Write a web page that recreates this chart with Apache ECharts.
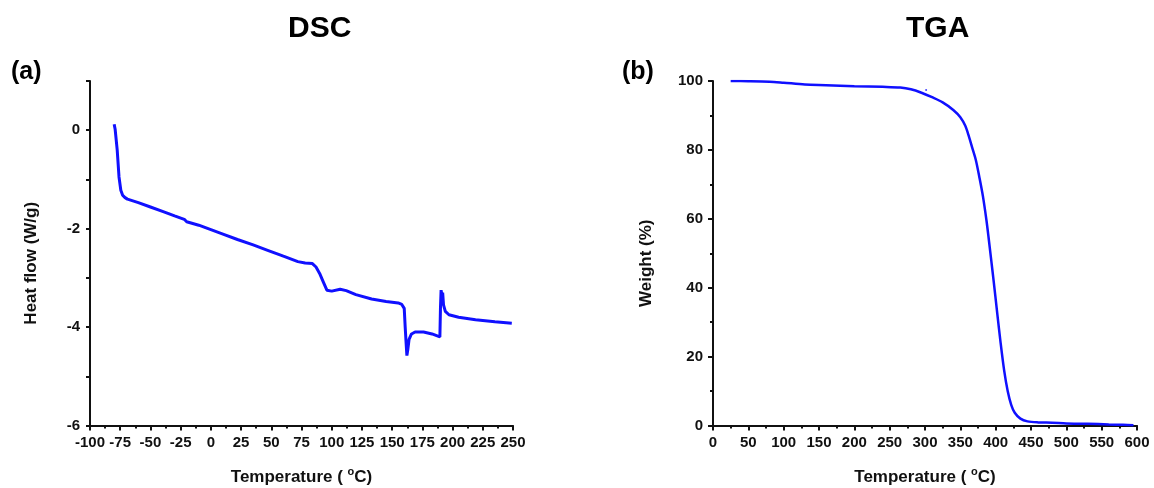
<!DOCTYPE html>
<html>
<head>
<meta charset="utf-8">
<script src="https://cdn.jsdelivr.net/npm/echarts@6/dist/echarts.min.js"></script>
<style>
    html, body { margin: 0; padding: 0; background: #fff; }
    #chart { width: 1154px; height: 488px; }
</style>
</head>
<body>
<div id="chart"></div>
<script>
// DSC curve (a)
var dscTemp = [-80, -79.2, -77.5, -76, -74.5, -73, -71, -69, -60, -50, -40, -30, -22, -20, -10, 0, 10, 22, 35, 47, 60, 72, 78, 84, 87, 90, 93, 96, 100, 107, 112, 120, 133, 145, 155, 158, 160, 160.8, 161.5, 162.2, 163, 164, 166, 169, 176, 183, 189.5, 190, 190.5, 191.2, 191.8, 192.5, 194, 197, 205, 219, 235, 249]
var dscHeat = [0.12, 0.02, -0.4, -0.95, -1.22, -1.32, -1.37, -1.40, -1.47, -1.56, -1.65, -1.74, -1.81, -1.86, -1.93, -2.02, -2.11, -2.22, -2.33, -2.44, -2.56, -2.67, -2.70, -2.71, -2.78, -2.91, -3.08, -3.25, -3.27, -3.23, -3.26, -3.34, -3.43, -3.48, -3.51, -3.54, -3.62, -4.0, -4.3, -4.58, -4.45, -4.25, -4.14, -4.10, -4.10, -4.14, -4.20, -3.6, -3.25, -3.35, -3.30, -3.55, -3.68, -3.75, -3.80, -3.85, -3.89, -3.92]

// TGA curve (b)
var tgaTemp = [25, 50, 80, 100, 130, 160, 200, 240, 265, 280, 295, 310, 325, 340, 350, 357, 362, 367, 372, 377, 382, 387, 390, 394, 397, 402, 407, 412, 417, 422, 427, 435, 445, 460, 480, 500, 530, 560, 580, 595]
var tgaWeight = [100, 99.95, 99.8, 99.5, 99.0, 98.8, 98.5, 98.3, 98.1, 97.6, 96.6, 95.3, 93.8, 91.6, 89.5, 87, 84, 80.5, 77, 72, 66.5, 59.5, 54.5, 47.5, 42.2, 33, 24, 16, 10, 6, 3.7, 2.0, 1.2, 0.9, 0.8, 0.6, 0.5, 0.3, 0.2, 0.1]
var tgaStray = [[301.6, 97.4]]

var dscTicks = { min: -100, max: 250, interval: 25 }
var dscYTicks = { min: -6, max: 1, interval: 1 }
var tgaTicks = { min: 0, max: 600, interval: 50 }
var tgaYTicks = { min: 0, max: 100, interval: 20 }

var font = "'Liberation Sans', Arial, sans-serif"
var ink = '#111'
var blue = '#1010ff'

function pairs(xs, ys) {
    return xs.map(function (x, i) { return [x, ys[i]] })
}

var axisBase = {
    axisLine: { show: true, onZero: false, lineStyle: { color: ink, width: 2 } },
    axisTick: { show: true, inside: false, length: 5, lineStyle: { color: ink, width: 2 } },
    minorTick: { show: true, splitNumber: 2, length: 3, lineStyle: { color: ink, width: 2 } },
    splitLine: { show: false },
    axisLabel: { color: ink, fontSize: 15, fontWeight: 'bold', fontFamily: font, margin: 10 },
    nameTextStyle: {
        color: ink, fontSize: 17, fontWeight: 'bold', fontFamily: font, lineHeight: 22,
        rich: { s: { fontSize: 11, fontWeight: 'bold', fontFamily: font, color: ink, lineHeight: 11, verticalAlign: 'top' } }
    }
}

function axis(extra) {
    return Object.assign({}, JSON.parse(JSON.stringify(axisBase)), extra)
}

var yNameStyle = {
    color: ink, fontSize: 17, fontWeight: 'bold', fontFamily: font, padding: [0, 20, 0, 0]
}

var chart = echarts.init(document.getElementById('chart'))
chart.setOption({
    animation: false,
    backgroundColor: '#fff',
    graphic: [
        { type: 'text', left: 288, top: 14, style: { text: 'DSC', font: 'bold 30px ' + font, fill: '#000' } },
        { type: 'text', left: 906, top: 14, style: { text: 'TGA', font: 'bold 30px ' + font, fill: '#000' } },
        { type: 'text', left: 11, top: 60, style: { text: '(a)', font: 'bold 25px ' + font, fill: '#000' } },
        { type: 'text', left: 622, top: 60, style: { text: '(b)', font: 'bold 25px ' + font, fill: '#000' } }
    ],
    grid: [
        { left: 90, top: 81, width: 423, height: 344.5, containLabel: false, outerBoundsMode: 'none' },
        { left: 713, top: 81, width: 424, height: 344.5, containLabel: false, outerBoundsMode: 'none' }
    ],
    xAxis: [
        axis({
            type: 'value', gridIndex: 0, min: dscTicks.min, max: dscTicks.max, interval: dscTicks.interval,
            name: 'Temperature ( {s|o}C)', nameLocation: 'middle', nameGap: 41
        }),
        axis({
            type: 'value', gridIndex: 1, min: tgaTicks.min, max: tgaTicks.max, interval: tgaTicks.interval,
            name: 'Temperature ( {s|o}C)', nameLocation: 'middle', nameGap: 41
        })
    ],
    yAxis: [
        axis({
            type: 'value', gridIndex: 0, min: dscYTicks.min, max: dscYTicks.max, interval: dscYTicks.interval,
            name: 'Heat flow (W/g)', nameLocation: 'middle', nameGap: 50, nameTextStyle: yNameStyle,
            minorTick: { show: false },
            axisTick: { show: true, length: 4, lineStyle: { color: ink, width: 2 } },
            axisLabel: {
                color: ink, fontSize: 15, fontWeight: 'bold', fontFamily: font, margin: 10,
                formatter: function (v) { return v % 2 === 0 ? String(v) : '' }
            }
        }),
        axis({
            type: 'value', gridIndex: 1, min: tgaYTicks.min, max: tgaYTicks.max, interval: tgaYTicks.interval,
            name: 'Weight (%)', nameLocation: 'middle', nameGap: 58, nameTextStyle: yNameStyle
        })
    ],
    series: [
        {
            type: 'line', xAxisIndex: 0, yAxisIndex: 0, showSymbol: false,
            lineStyle: { color: blue, width: 3 },
            data: pairs(dscTemp, dscHeat)
        },
        {
            type: 'line', xAxisIndex: 1, yAxisIndex: 1, showSymbol: false, smooth: 0.3,
            lineStyle: { color: blue, width: 2.5 },
            data: pairs(tgaTemp, tgaWeight)
        },
        {
            type: 'scatter', xAxisIndex: 1, yAxisIndex: 1, symbolSize: 2,
            itemStyle: { color: blue },
            data: tgaStray
        }
    ]
})
</script>
</body>
</html>
